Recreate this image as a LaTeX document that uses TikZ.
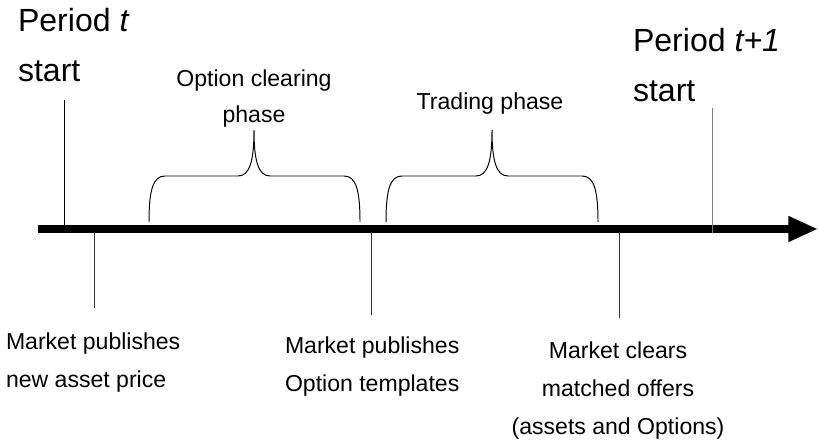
\documentclass[tikz,border=0pt]{standalone}
\usepackage{fontspec}
\setmainfont{Liberation Sans}
\usepackage{tikz}
\usetikzlibrary{arrows.meta, positioning}

\begin{document}
\begin{tikzpicture}[
  x=0.025cm, y=-0.025cm,
  every node/.style={inner sep=0pt, outer sep=0pt},
  bigtxt/.style={font=\fontsize{22.8pt}{35.6pt}\selectfont, align=left, anchor=base west},
  phasetxt/.style={font=\fontsize{16.4pt}{25.6pt}\selectfont, align=center, anchor=base},
  evtxt/.style={font=\fontsize{16.4pt}{27pt}\selectfont, anchor=base},
  timeline/.style={line width=5pt, -{Triangle[length=21pt, width=17pt]}},
  tick/.style={line width=0.7pt, black!80},
  brace/.style={line width=0.7pt}
]
\useasboundingbox (0,0) rectangle (819,439);

% time axis
\coordinate (t0) at (38,229);
\coordinate (tend) at (818,229);
\draw[timeline] (t0) -- (tend);

% period marks
\coordinate (pA) at (64,229);
\coordinate (pAtop) at (64,100);
\coordinate (pB) at (712,233);
\coordinate (pBtop) at (712,108);
\draw[tick, black] (pA) -- (pAtop);
\draw[tick, black!50] (pB) -- (pBtop);

% base = last line
\node[bigtxt] (startT) at (18,82) {Period \textit{t}\\start};
\node[bigtxt] (startTnext) at (633,102) {Period \textit{t+1}\\start};

% phases
\foreach \l/\c/\r in {149/254/360, 386/492/598}
  \draw[brace] (\l,222) .. controls (\l,190) and (\l+4,176) .. (\l+16,176)
    -- (\c-16,176) .. controls (\c-4,176) and (\c,160) .. (\c,130)
    .. controls (\c,160) and (\c+4,176) .. (\c+16,176)
    -- (\r-16,176) .. controls (\r-4,176) and (\r,190) .. (\r,222);

\node[phasetxt] (clearLbl) at (254,122) {Option clearing\\phase};
\node[phasetxt] (tradeLbl) at (490,110) {Trading phase};

% market events
\coordinate (eA) at (94,232);
\coordinate (eAend) at (94,308);
\coordinate (eB) at (371,232);
\coordinate (eBend) at (371,315);
\coordinate (eC) at (619,232);
\coordinate (eCend) at (619,318);
\draw[tick] (eA) -- (eAend);
\draw[tick] (eB) -- (eBend);
\draw[tick] (eC) -- (eCend);

\node[evtxt, anchor=base west, align=left] (pubPrice) at (6,387) {Market publishes\\new asset price};
\node[evtxt, anchor=base west, align=left] (pubTempl) at (285,391) {Market publishes\\Option templates};
\node[evtxt, align=center] (clearOffers) at (618,434) {Market clears\\matched offers\\(assets and Options)};
\end{tikzpicture}
\end{document}
